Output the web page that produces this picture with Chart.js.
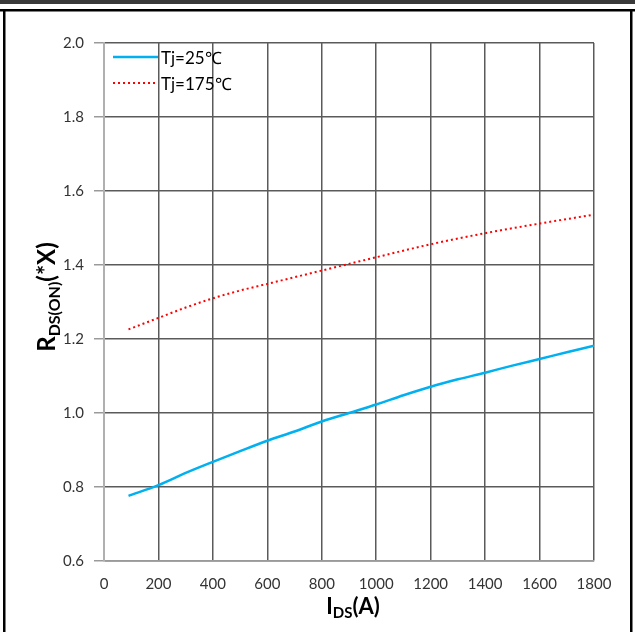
<!DOCTYPE html>
<html>
<head>
<meta charset="utf-8">
<script src="https://cdn.jsdelivr.net/npm/chart.js@4"></script>
<style>
  html, body { margin: 0; padding: 0; background: #fff; }
  #wrap { width: 635px; height: 632px; position: relative; }
</style>
</head>
<body>
<div id="wrap"><canvas id="grafico"></canvas></div>
<script>
// valores (IDS em A, RDS(on) normalizado)
const idsFrio = [90, 200, 300, 400, 500, 600, 700, 800, 900, 1000, 1100, 1200, 1300, 1400, 1500, 1600, 1700, 1800];
const rdsFrio = [0.776, 0.805, 0.838, 0.868, 0.897, 0.925, 0.950, 0.977, 1.000, 1.023, 1.048, 1.071, 1.091, 1.109, 1.128, 1.146, 1.164, 1.182];
const idsQuente = [90, 200, 300, 400, 500, 600, 700, 800, 900, 1000, 1200, 1400, 1600, 1800];
const rdsQuente = [1.226, 1.257, 1.285, 1.310, 1.331, 1.349, 1.367, 1.385, 1.403, 1.421, 1.456, 1.486, 1.512, 1.536];
const legendas = ["Tj=25\u2103", "Tj=175\u2103"];
const ticksX = [0, 200, 400, 600, 800, 1000, 1200, 1400, 1600, 1800];
const ticksY = [0.6, 0.8, 1.0, 1.2, 1.4, 1.6, 1.8, 2.0];

const fonte = "Lato, 'Open Sans', sans-serif";

function pontos(xs, ys) {
    return xs.map((x, i) => ({ x: x, y: ys[i] }));
}

// moldura e titulos dos eixos (com subscrito)
const extras = {
    id: "extras",
    beforeDraw(chart) {
        const c = chart.ctx;
        c.save();
        c.fillStyle = "#fff";
        c.fillRect(0, 0, chart.width, chart.height);
        c.fillStyle = "#3a3a3a";
        c.fillRect(0, 0, 635, 4);
        c.fillStyle = "#000";
        c.fillRect(0, 9, 635, 2.5);
        c.fillRect(3, 9, 2.5, 623);
        c.fillRect(630, 9, 2.5, 623);
        c.restore();
    },
    afterDraw(chart) {
        const c = chart.ctx;
        const area = chart.chartArea;
        c.save();
        c.fillStyle = "#000";
        c.textBaseline = "alphabetic";

        // titulo x: I_DS(A)
        const grande = "bold 22px " + fonte;
        const pequeno = "bold 15px " + fonte;
        c.font = grande;
        const wI = c.measureText("I").width;
        const wA = c.measureText("(A)").width;
        c.font = pequeno;
        const wDS = c.measureText("DS").width;
        let x0 = (area.left + area.right) / 2 - (wI + wDS + wA) / 2 + 4;
        const yb = 614;
        c.font = grande;
        c.textAlign = "left";
        c.fillText("I", x0, yb);
        c.font = pequeno;
        c.fillText("DS", x0 + wI, yb + 4);
        c.font = grande;
        c.fillText("(A)", x0 + wI + wDS, yb);

        // titulo y: R_DS(ON)(*X)
        c.translate(55, (area.top + area.bottom) / 2 - 5);
        c.rotate(-Math.PI / 2);
        const gY = "bold 24px " + fonte;
        const pY = "bold 16px " + fonte;
        c.font = gY;
        const wR = c.measureText("R").width;
        const wX = c.measureText("(*X)").width;
        c.font = pY;
        const wOn = c.measureText("DS(ON)").width;
        x0 = -(wR + wOn + wX) / 2;
        c.font = gY;
        c.fillText("R", x0, 0);
        c.font = pY;
        c.fillText("DS(ON)", x0 + wR, 5);
        c.font = gY;
        c.fillText("(*X)", x0 + wR + wOn, 0);
        c.restore();

        // legenda dentro da area do grafico
        c.save();
        c.font = "17px " + fonte;
        c.textBaseline = "middle";
        c.fillStyle = "#000";
        chart.data.datasets.forEach((ds, i) => {
            const y = 57 + i * 26;
            c.strokeStyle = ds.borderColor;
            c.lineWidth = ds.borderWidth;
            c.setLineDash(ds.borderDash || []);
            c.beginPath();
            c.moveTo(113, y);
            c.lineTo(158, y);
            c.stroke();
            c.fillText(ds.label, 161, y + 2);
        });
        c.restore();
    }
};

const ctx = document.getElementById("grafico").getContext("2d");
const chart = new Chart(ctx, {
    type: "scatter",
    data: {
        datasets: [
            {
                label: legendas[0],
                data: pontos(idsFrio, rdsFrio),
                showLine: true,
                borderColor: "#00B0F0",
                borderWidth: 2.5,
                pointRadius: 0,
                cubicInterpolationMode: "monotone",
            },
            {
                label: legendas[1],
                data: pontos(idsQuente, rdsQuente),
                showLine: true,
                borderColor: "#FF0000",
                borderWidth: 2,
                borderDash: [2, 3],
                pointRadius: 0,
                cubicInterpolationMode: "monotone",
            },
        ],
    },
    options: {
        responsive: true,
        maintainAspectRatio: false,
        animation: false,
        layout: { padding: { left: 0, top: 43, right: 41, bottom: 0 } },
        plugins: {
            legend: { display: false },
            tooltip: { enabled: false },
        },
        scales: {
            x: {
                type: "linear",
                min: 0,
                max: 1800,
                afterFit: (s) => { s.height = 71; },
                afterBuildTicks: (s) => { s.ticks = ticksX.map(v => ({ value: v })); },
                grid: { color: "#5a5a5a", lineWidth: 1.5, drawTicks: false },
                border: { color: "#9a9a9a", width: 1.5 },
                ticks: {
                    padding: 14,
                    color: "#333",
                    font: { family: fonte, size: 15 },
                    callback: (v) => String(v),
                },
            },
            y: {
                min: 0.6,
                max: 2.0,
                afterFit: (s) => { s.width = 104; },
                afterBuildTicks: (s) => { s.ticks = ticksY.map(v => ({ value: v })); },
                grid: { color: "#5a5a5a", lineWidth: 1.5, tickLength: 10, tickColor: "#9a9a9a" },
                border: { color: "#b0b0b0", width: 2 },
                ticks: {
                    padding: 10,
                    color: "#333",
                    font: { family: fonte, size: 15 },
                    callback: (v) => Number(v).toFixed(1),
                },
            },
        },
    },
    plugins: [extras],
});
</script>
</body>
</html>
